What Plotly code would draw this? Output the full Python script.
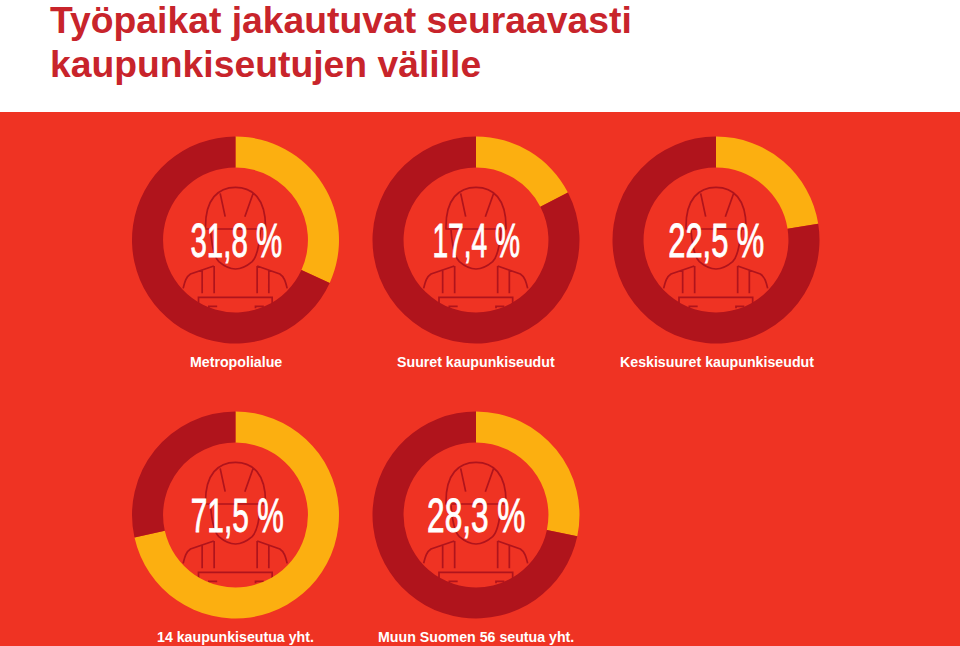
import plotly.graph_objects as go

TITLE_LINES = ["Työpaikat jakautuvat seuraavasti", "kaupunkiseutujen välille"]
REGIONS = ["Metropolialue", "Suuret kaupunkiseudut", "Keskisuuret kaupunkiseudut",
           "14 kaupunkiseutua yht.", "Muun Suomen 56 seutua yht."]
SHARES = [31.8, 17.4, 22.5, 71.5, 28.3]
SHARE_LABELS = ["31,8 %", "17,4 %", "22,5 %", "71,5 %", "28,3 %"]

W, H = 960, 646
CENTERS = [(235.5, 240), (476, 240), (716, 240), (235.5, 515), (476, 515)]
LABEL_CX = [235.5, 476, 716.5, 235.5, 476]
LABEL_Y = [362, 362, 362, 637, 637]
PCT_CX = [236, 476, 716.5, 237, 476.5]
PCT_SCALE = [0.60, 0.575, 0.63, 0.61, 0.645]
R = 103.5
RED, DARK, AMBER = "#EF3323", "#B0141C", "#FCAF10"


def px(x):
    return x / W


def py(y):
    return 1 - y / H


# worker icon, in zoom units relative to the ring centre (1 unit = 1/3 pixel)
ICON = [
    "M -90 -33 C -92 -125 -50 -158 0 -158 C 50 -158 92 -125 90 -33",
    "M -92 -33 L 92 -33",
    "M -46 -140 L -31 -70",
    "M 53 -140 L 28 -70",
    "M -75 -30 C -72 10 -65 50 -50 65 C -30 82 -15 87 0 87 C 15 87 30 82 50 65 C 65 50 72 10 75 -30",
    "M -157 145 C -152 125 -148 110 -135 102 L -65 78 M -100 92 L -100 160 M -64 78 L -64 160",
    "M 155 145 C 150 125 146 110 133 102 L 65 78 M 100 92 L 100 160 M 65 78 L 65 160",
    "M -111 195 L -111 172 L 110 172 L 110 195",
    "M -80 205 L -80 199 L -55 199 M 60 205 L 60 199 L 85 199",
]


def icon_path(cx, cy):
    res = []
    for seg in ICON:
        is_x = True
        for t in seg.split():
            if t.isalpha():
                res.append(t)
                is_x = True
            else:
                v = float(t) / 3
                res.append(f"{px(cx + v):.5f}" if is_x else f"{py(cy + v):.5f}")
                is_x = not is_x
    return " ".join(res)


fig = go.Figure()
for share, (cx, cy) in zip(SHARES, CENTERS):
    fig.add_trace(go.Pie(
        values=[share, 100 - share],
        sort=False, direction="clockwise", rotation=0, hole=0.7,
        marker=dict(colors=[AMBER, DARK], line=dict(width=0)),
        textinfo="none", hoverinfo="skip", showlegend=False,
        domain=dict(x=[px(cx - R), px(cx + R)], y=[py(cy + R), py(cy - R)]),
    ))

shapes = [dict(type="rect", xref="paper", yref="paper", x0=0, x1=1, y0=0, y1=py(112),
               fillcolor=RED, line_width=0, layer="below")]
for cx, cy in CENTERS:
    shapes.append(dict(type="path", xref="paper", yref="paper", path=icon_path(cx, cy),
                       line=dict(color=DARK, width=1.7), layer="below"))

annotations = []
for line, y in zip(TITLE_LINES, [19.5, 63.5]):
    annotations.append(dict(text=line, xref="paper", yref="paper", x=px(47.5), y=py(y),
                            xanchor="left", yanchor="middle", showarrow=False,
                            font=dict(family="Liberation Sans", size=37.3, color="#C8242B", weight="bold")))
for lab, pcx, (cx, cy) in zip(SHARE_LABELS, PCT_CX, CENTERS):
    annotations.append(dict(text=lab, xref="paper", yref="paper", x=px(pcx), y=py(cy),
                            xanchor="center", yanchor="middle", showarrow=False,
                            font=dict(family="Liberation Sans", size=49, color="white")))
for lab, cx, y in zip(REGIONS, LABEL_CX, LABEL_Y):
    annotations.append(dict(text=lab, xref="paper", yref="paper", x=px(cx), y=py(y),
                            xanchor="center", yanchor="middle", showarrow=False,
                            font=dict(family="Liberation Sans", size=14.2, color="white", weight="bold")))

fig.update_layout(width=W, height=H, margin=dict(l=0, r=0, t=0, b=0),
                  paper_bgcolor="white", shapes=shapes, annotations=annotations)

# zero page margin; squeeze the percentage figures to the reference's condensed look
POST = """
document.body.style.margin = '0';
document.documentElement.style.overflow = 'hidden';
var scales = %s;
var i = 0;
document.querySelectorAll('.annotation-text').forEach(function (t) {
  if (t.textContent.indexOf('%%') >= 0) {
    t.style.transformBox = 'fill-box';
    t.style.transformOrigin = 'center';
    t.style.transform = 'scaleX(' + scales[i] + ')';
    t.style.stroke = 'white';
    t.style.strokeWidth = '0.9px';
    i += 1;
  }
});
""" % PCT_SCALE
fig.write_html("out.html", post_script=POST, config={"displayModeBar": False})
